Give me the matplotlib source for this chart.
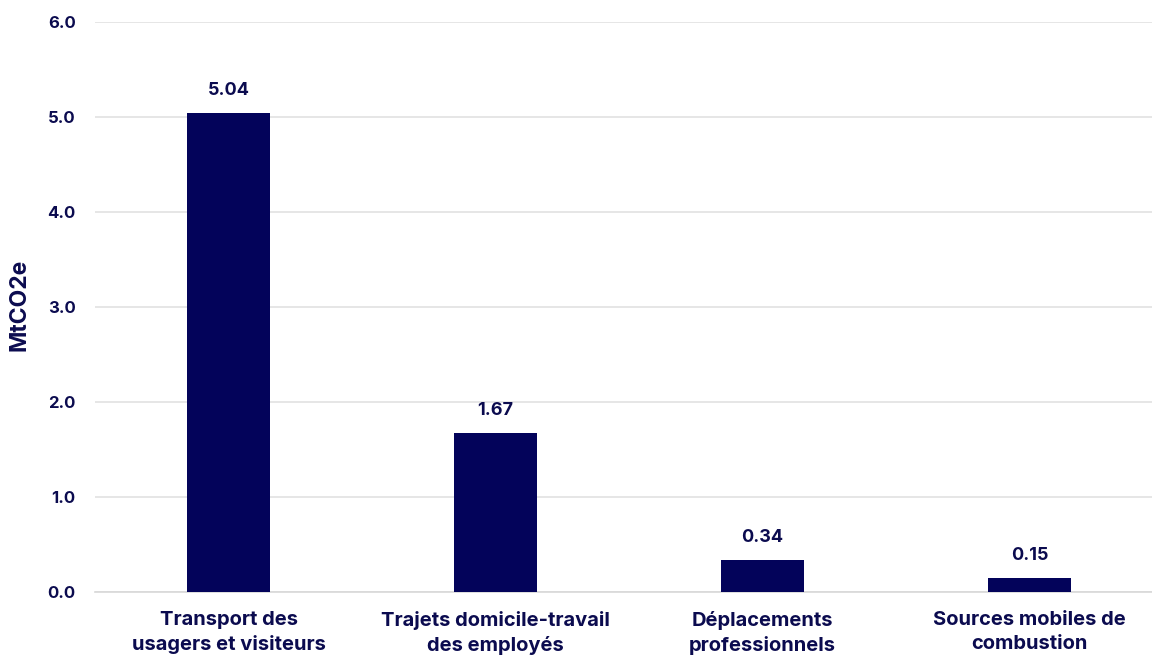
import matplotlib
matplotlib.use("Agg")
import matplotlib.pyplot as plt

categories = [
    "Transport des\nusagers et visiteurs",
    "Trajets domicile-travail\ndes employés",
    "Déplacements\nprofessionnels",
    "Sources mobiles de\ncombustion",
]
values = [5.04, 1.67, 0.34, 0.15]
yticks = [0.0, 1.0, 2.0, 3.0, 4.0, 5.0, 6.0]
ylabel = "MtCO2e"

navy = "#03035A"
text_col = "#0B0B4F"
grid_col = "#E2E2E2"

plt.rcParams["font.family"] = ["Inter", "DejaVu Sans"]

fig = plt.figure(figsize=(11.52, 6.55), dpi=100)
ax = fig.add_axes([0.0825, 0.0962, 0.9175, 0.8702])

x = list(range(len(categories)))
bars = ax.bar(x, values, width=0.31, color=navy, zorder=3)

for rect, v in zip(bars, values):
    ax.annotate(f"{v:.2f}", (rect.get_x() + rect.get_width() / 2, v),
                xytext=(0, 10), textcoords="offset points",
                ha="center", va="bottom", fontsize=13, fontweight="bold",
                color=text_col)

ax.set_xlim(-0.5, 3.459)
ax.set_ylim(0, 6.0)
ax.set_yticks(yticks)
ax.set_yticklabels([f"{t:.1f}" for t in yticks], fontsize=12,
                   fontweight="bold", color=text_col)
ax.set_xticks(x)
ax.set_xticklabels(categories, fontsize=14.5, fontweight="bold",
                   color=text_col, linespacing=1.4, va="top")
ax.tick_params(axis="both", length=0)
ax.tick_params(axis="y", pad=14)
ax.tick_params(axis="x", pad=14)

ax.grid(axis="y", color=grid_col, linewidth=1.2, zorder=0)
for s in ["top", "right", "left"]:
    ax.spines[s].set_visible(False)
ax.spines["bottom"].set_color("#D8D8D8")
ax.spines["bottom"].set_linewidth(1.2)

ax.set_ylabel(ylabel, fontsize=16.5, fontweight="bold", color=text_col)
ax.yaxis.set_label_coords(-0.0615, 0.503)

fig.savefig("out.png", dpi=100)
